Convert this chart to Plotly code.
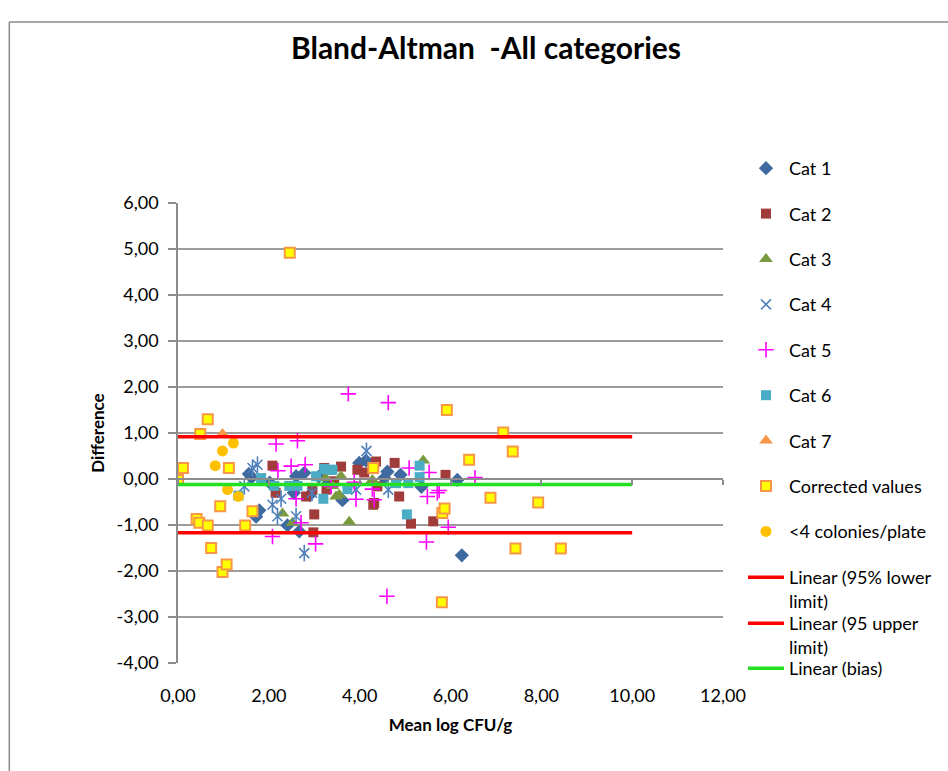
import plotly.graph_objects as go

# ---------------- data ----------------
cat1_x = [1.56, 1.62, 1.72, 1.79, 2.02, 2.41, 2.55, 2.60, 2.67, 2.78, 2.90, 3.10, 3.30, 3.62, 3.99, 4.14, 4.54, 4.61, 4.90, 5.36, 6.15, 6.25]
cat1_y = [0.11, 0.03, -0.82, -0.68, -0.08, -1.01, -0.30, 0.06, -1.14, 0.13, -0.35, 0.05, -0.10, -0.46, 0.35, 0.40, 0.02, 0.16, 0.09, -0.17, -0.02, -1.66]

cat2_x = [2.08, 2.15, 2.82, 2.96, 2.98, 3.00, 3.22, 3.27, 3.44, 3.59, 3.95, 4.10, 4.30, 4.32, 4.36, 4.39, 4.77, 4.87, 5.13, 5.62, 5.89]
cat2_y = [0.29, -0.30, -0.38, -0.23, -1.16, -0.77, 0.24, -0.23, -0.05, 0.27, 0.20, 0.14, -0.56, -0.52, 0.38, -0.16, 0.35, -0.38, -0.97, -0.92, 0.09]

cat3_x = [2.30, 2.52, 3.25, 3.40, 3.48, 3.55, 3.59, 3.77, 4.28, 5.40]
cat3_y = [-0.75, -0.95, 0.02, -0.15, -0.38, -0.34, 0.06, -0.93, -0.02, 0.40]

cat4_x = [1.46, 1.64, 1.75, 2.08, 2.19, 2.27, 2.60, 2.78, 2.95, 3.92, 4.15, 4.63]
cat4_y = [-0.16, 0.24, 0.31, -0.56, -0.81, -0.43, -0.81, -1.61, -0.30, -0.23, 0.61, -0.23]

cat5_x = [2.08, 2.16, 2.20, 2.49, 2.60, 2.63, 2.71, 2.80, 3.03, 3.37, 3.75, 3.88, 3.92, 4.28, 4.32, 4.63, 4.60, 5.09, 5.47, 5.49, 5.53, 5.71, 5.75, 5.95, 6.54]
cat5_y = [-1.25, 0.76, 0.18, 0.28, -0.43, 0.83, -0.95, 0.31, -1.41, -0.16, 1.85, -0.07, -0.44, -0.22, -0.45, 1.66, -2.55, 0.24, -1.37, -0.38, 0.14, -0.30, -0.25, -1.05, 0.03]

cat6_x = [1.33, 1.83, 2.12, 2.45, 2.63, 3.04, 3.20, 3.22, 3.36, 3.40, 3.73, 4.80, 5.04, 5.07, 5.32, 5.32]
cat6_y = [-0.36, 0.02, -0.15, -0.15, -0.15, 0.06, -0.43, 0.22, 0.20, 0.20, -0.22, -0.09, -0.77, -0.09, 0.29, 0.04]

cat7_x = [0.98]
cat7_y = [0.98]

corr_x = [0.00, 0.11, 0.41, 0.47, 0.49, 0.655, 0.655, 0.73, 0.93, 0.98, 1.07, 1.12, 1.48, 1.64, 2.46, 4.30, 5.81, 5.82, 5.87, 5.92, 6.41, 6.88, 7.16, 7.37, 7.43, 7.93, 8.43]
corr_y = [-0.02, 0.24, -0.87, -0.95, 0.98, 1.30, -1.01, -1.50, -0.59, -2.02, -1.86, 0.24, -1.01, -0.70, 4.92, 0.24, -2.68, -0.74, -0.64, 1.50, 0.42, -0.41, 1.01, 0.60, -1.51, -0.51, -1.51]

low_x = [0.82, 0.98, 1.09, 1.22, 1.33]
low_y = [0.29, 0.61, -0.23, 0.78, -0.38]

line_x = [0, 10]
lower_limit = -1.17
upper_limit = 0.92
bias = -0.12

x_ticks = [0, 2, 4, 6, 8, 10, 12]
x_labels = ["0,00", "2,00", "4,00", "6,00", "8,00", "10,00", "12,00"]
y_ticks = [-4, -3, -2, -1, 0, 1, 2, 3, 4, 5, 6]
y_labels = ["-4,00", "-3,00", "-2,00", "-1,00", "0,00", "1,00", "2,00", "3,00", "4,00", "5,00", "6,00"]

FONT = "Lato"

fig = go.Figure()

# limit / bias lines (drawn below markers)
fig.add_trace(go.Scatter(x=line_x, y=[lower_limit] * 2, mode="lines", xaxis="x2",
                         line=dict(color="#FF0000", width=3.5),
                         name="Linear (95% lower<br>limit)", legend="legend2"))
fig.add_trace(go.Scatter(x=line_x, y=[upper_limit] * 2, mode="lines", xaxis="x2",
                         line=dict(color="#FF0000", width=3.5),
                         name="Linear (95 upper<br>limit)", legend="legend3"))
fig.add_trace(go.Scatter(x=line_x, y=[bias] * 2, mode="lines", xaxis="x2",
                         line=dict(color="#22E022", width=3.5),
                         name="Linear (bias)", legend="legend4"))

def mk(x, y, name, symbol, color, size, lw=0, lc=None, group=None, show=True):
    return go.Scatter(x=x, y=y, mode="markers", name=name, legendgroup=group or name,
                      showlegend=show,
                      marker=dict(symbol=symbol, color=color, size=size,
                                  line=dict(width=lw, color=lc or color)))

fig.add_trace(mk(cat1_x, cat1_y, "Cat 1", "diamond", "#3E6AA0", 11))
fig.add_trace(mk(cat2_x, cat2_y, "Cat 2", "square", "#A03C3A", 10))
fig.add_trace(mk(cat3_x, cat3_y, "Cat 3", "triangle-up", "#7A9A40", 12))
fig.add_trace(mk(cat4_x, cat4_y, "Cat 4", "x-thin-open", "#4F81BD", 10, 1.6, "#4F81BD"))
fig.add_trace(mk(cat4_x, cat4_y, "Cat 4", "line-ns-open", "#4F81BD", 12, 1.6, "#4F81BD", group="Cat 4", show=False))
fig.add_trace(mk(cat5_x, cat5_y, "Cat 5", "cross-thin-open", "#FF00FF", 11, 1.6, "#FF00FF"))
fig.add_trace(mk(cat6_x, cat6_y, "Cat 6", "square", "#4BACC6", 10))
fig.add_trace(mk(cat7_x, cat7_y, "Cat 7", "triangle-up", "#F79646", 12))
fig.add_trace(mk(corr_x, corr_y, "Corrected values", "square", "#FFFF00", 10, 2, "#F79646"))
fig.add_trace(mk(low_x, low_y, "<4 colonies/plate", "circle", "#FFC000", 11))

L, R, T, B = 178, 224, 203, 108
W, H = 948, 771
pw, ph = W - L - R, H - T - B

def px(xp):
    return (xp - L) / pw

def py(yp):
    return (H - B - yp) / ph

legend_font = dict(family=FONT, size=18, color="#000000")

fig.update_layout(
    width=W, height=H,
    margin=dict(l=L, r=R, t=T, b=B),
    paper_bgcolor="white", plot_bgcolor="white",
    font=dict(family=FONT, color="#000000"),
    title=dict(text="<b>Bland-Altman  -All categories</b>", x=486 / W, xref="container",
               xanchor="center", y=1 - 48 / H, yref="container", yanchor="middle",
               font=dict(family=FONT, size=30, color="#000000")),
    xaxis=dict(range=[0, 12], tickvals=x_ticks, ticktext=x_labels, showgrid=False,
               zeroline=False, showline=False, ticks="", ticklabelstandoff=20,
               tickfont=dict(family=FONT, size=18, color="#000000"),
               title=dict(text="<b>Mean log CFU/g</b>", standoff=14,
                          font=dict(family=FONT, size=17, color="#000000"))),
    xaxis2=dict(range=[0, 12], tickvals=x_ticks, overlaying="x", anchor="free",
                position=0.4, showgrid=False, zeroline=False, showline=True,
                linecolor="#8c8c8c", linewidth=1.5, ticks="outside", ticklen=5,
                tickcolor="#8c8c8c", tickwidth=1.5, showticklabels=False),
    yaxis=dict(range=[-4, 6], tickvals=y_ticks, ticktext=y_labels, showgrid=True,
               gridcolor="#9c9c9c", gridwidth=1.5, zeroline=False, showline=True,
               linecolor="#8c8c8c", linewidth=1.5, ticks="outside", ticklen=8,
               tickcolor="#8c8c8c", tickwidth=1.5, ticklabelstandoff=6,
               tickfont=dict(family=FONT, size=18, color="#000000"),
               title=dict(text="<b>Difference</b>", standoff=8,
                          font=dict(family=FONT, size=17, color="#000000"))),
    legend=dict(x=px(743), y=py(150), xanchor="left", yanchor="top",
                font=legend_font, tracegroupgap=19, bgcolor="rgba(0,0,0,0)",
                itemwidth=36, itemsizing="trace", maxheight=700),
    legend2=dict(x=px(743), y=py(559), xanchor="left", yanchor="top", valign="top",
                 font=legend_font, bgcolor="rgba(0,0,0,0)", itemwidth=36, maxheight=300),
    legend3=dict(x=px(743), y=py(605), xanchor="left", yanchor="top", valign="top",
                 font=legend_font, bgcolor="rgba(0,0,0,0)", itemwidth=36, maxheight=300),
    legend4=dict(x=px(743), y=py(650), xanchor="left", yanchor="top", valign="top",
                 font=legend_font, bgcolor="rgba(0,0,0,0)", itemwidth=36, maxheight=300),
    shapes=[
        dict(type="line", xref="paper", yref="paper", x0=px(9), x1=px(W + 5),
             y0=py(22), y1=py(22), line=dict(color="#8a8a8a", width=1.5)),
        dict(type="line", xref="paper", yref="paper", x0=px(9), x1=px(9),
             y0=py(22), y1=py(H + 5), line=dict(color="#8a8a8a", width=1.5)),
    ],
)

fig.write_html("out.html")
